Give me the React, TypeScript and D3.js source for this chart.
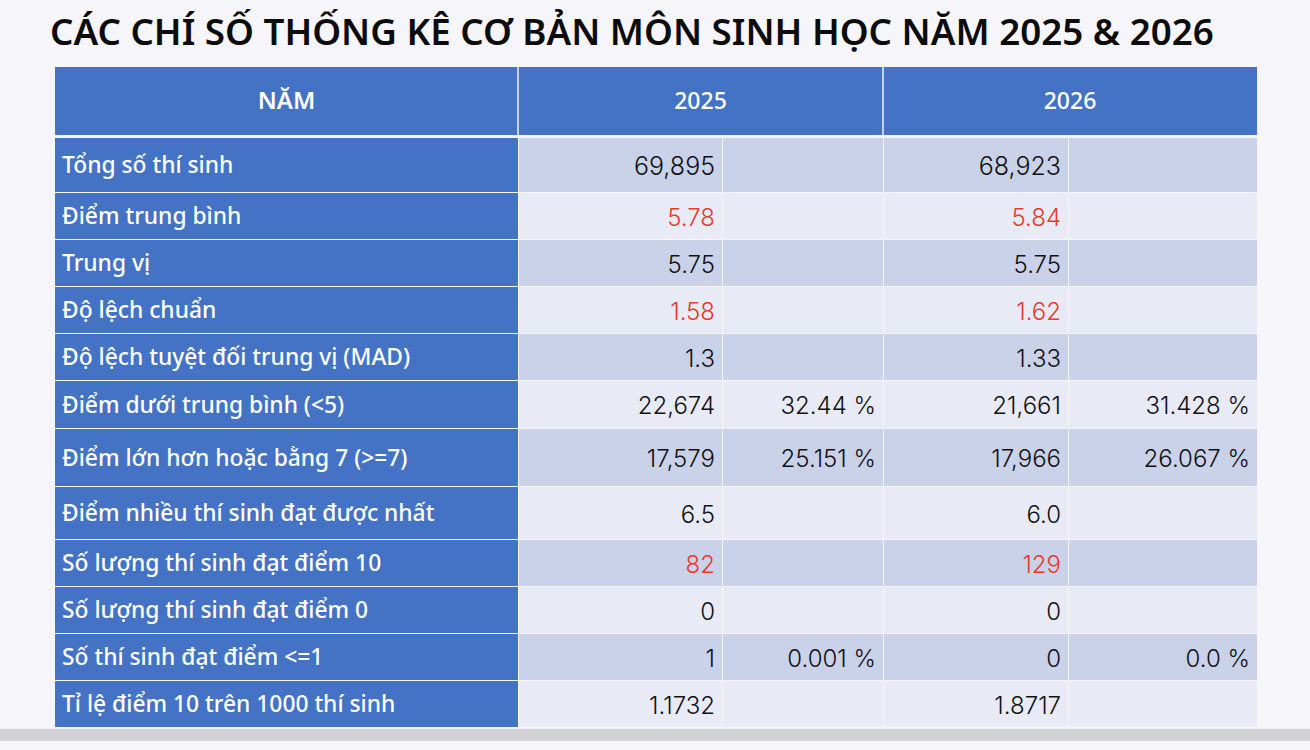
import React from 'react'
import * as d3 from 'd3'

const titleText = 'CÁC CHÍ SỐ THỐNG KÊ CƠ BẢN MÔN SINH HỌC NĂM 2025 & 2026'
const headerLabel = 'NĂM'
const years = ['2025', '2026']

const rowLabels = [
  'Tổng số thí sinh',
  'Điểm trung bình',
  'Trung vị',
  'Độ lệch chuẩn',
  'Độ lệch tuyệt đối trung vị (MAD)',
  'Điểm dưới trung bình (<5)',
  'Điểm lớn hơn hoặc bằng 7 (>=7)',
  'Điểm nhiều thí sinh đạt được nhất',
  'Số lượng thí sinh đạt điểm 10',
  'Số lượng thí sinh đạt điểm 0',
  'Số thí sinh đạt điểm <=1',
  'Tỉ lệ điểm 10 trên 1000 thí sinh',
]

const values2025 = ['69,895', '5.78', '5.75', '1.58', '1.3', '22,674', '17,579', '6.5', '82', '0', '1', '1.1732']
const percents2025 = ['', '', '', '', '', '32.44 %', '25.151 %', '', '', '', '0.001 %', '']
const values2026 = ['68,923', '5.84', '5.75', '1.62', '1.33', '21,661', '17,966', '6.0', '129', '0', '0', '1.8717']
const percents2026 = ['', '', '', '', '', '31.428 %', '26.067 %', '', '', '', '0.0 %', '']
const redRows = ['Điểm trung bình', 'Độ lệch chuẩn', 'Số lượng thí sinh đạt điểm 10']

// layout of the photographed table, edges
const rowEdges = [138, 193, 240, 287, 334, 381, 429, 487, 540, 587, 634, 681, 728]
const colEdges = [55, 518, 722, 883, 1068, 1257]

const rowTop = d3.scaleOrdinal<string, number>().domain(rowLabels).range(rowEdges.slice(0, -1))
const rowBottom = d3.scaleOrdinal<string, number>().domain(rowLabels).range(rowEdges.slice(1))
const colX = d3.scaleOrdinal<string, number>().domain(['label', 'v25', 'p25', 'v26', 'p26', 'end']).range(colEdges)

const BLUE = '#4472c4'
const DARK_ROW = '#cad2e9'
const LIGHT_ROW = '#e8ebf6'
const RED = '#e8392b'
const FONT = '"Noto Sans", sans-serif'
const NUM_FONT = 'Inter, sans-serif'

export default function App() {
  const cols = [
    { key: 'v25', next: 'p25', data: values2025, red: true },
    { key: 'p25', next: 'v26', data: percents2025, red: false },
    { key: 'v26', next: 'p26', data: values2026, red: true },
    { key: 'p26', next: 'end', data: percents2026, red: false },
  ]
  return (
    <svg
      width={1310}
      height={750}
      style={{ position: 'fixed', left: 0, top: 0, background: '#f5f5fa', fontFamily: FONT }}
    >
      <text x={50} y={45} fontSize={36.75} fontWeight={600} fill="#0c0c0c">{titleText}</text>

      {/* header */}
      <rect x={colX('label')} y={67} width={colX('end') - colX('label')} height={68} fill={BLUE} />
      <line x1={colX('v25')} x2={colX('v25')} y1={67} y2={135} stroke="#f0f2fa" strokeWidth={1.5} />
      <line x1={colX('v26')} x2={colX('v26')} y1={67} y2={135} stroke="#f0f2fa" strokeWidth={1.5} />
      <text x={(colX('label') + colX('v25')) / 2} y={101} dy="0.35em" textAnchor="middle" fontSize={24} fontWeight={600} fill="#fff">{headerLabel}</text>
      <text x={(colX('v25') + colX('v26')) / 2} y={101} dy="0.35em" textAnchor="middle" fontSize={23} fontWeight={500} fill="#fff">{years[0]}</text>
      <text x={(colX('v26') + colX('end')) / 2} y={101} dy="0.35em" textAnchor="middle" fontSize={23} fontWeight={500} fill="#fff">{years[1]}</text>

      {/* rows */}
      {rowLabels.map((label, i) => {
        const y0 = rowTop(label)
        const y1 = rowBottom(label)
        const mid = (y0 + y1) / 2
        return (
          <g key={label}>
            <rect x={colX('label')} y={y0} width={colX('v25') - colX('label')} height={y1 - y0 - 1} fill={BLUE} />
            <text x={colX('label') + 7} y={mid} dy="0.35em" fontSize={22.8} fontWeight={500} fill="#fff">{label}</text>
            {cols.map((c) => (
              <g key={c.key}>
                <rect x={colX(c.key) + 1} y={y0} width={colX(c.next) - colX(c.key) - 1} height={y1 - y0 - 1} fill={i % 2 === 0 ? DARK_ROW : LIGHT_ROW} />
                <text
                  x={colX(c.next) - 7}
                  y={mid + 1}
                  dy="0.35em"
                  textAnchor="end"
                  fontFamily={NUM_FONT}
                  fontSize={i === 0 ? 25 : 24}
                  fontWeight={300}
                  fill={c.red && redRows.includes(label) ? RED : '#111'}
                >
                  {c.data[i]}
                </text>
              </g>
            ))}
          </g>
        )
      })}

      {/* grey band at the bottom of the screenshot */}
      <rect x={0} y={729} width={1310} height={12} fill="#d2d2d6" />
    </svg>
  )
}
